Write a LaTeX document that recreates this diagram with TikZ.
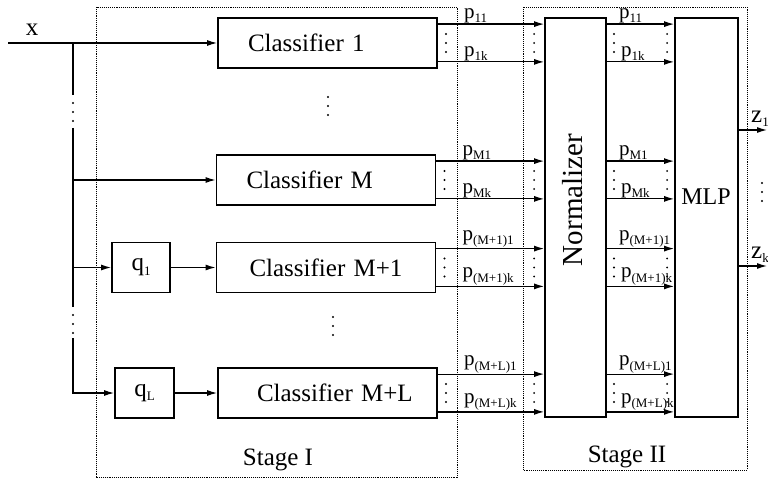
\documentclass[tikz,border=0pt]{standalone}
\usepackage{fontspec}
\setmainfont{Liberation Serif}
\usetikzlibrary{arrows.meta,positioning,calc}

\newcommand{\subidx}[1]{{\fontsize{13}{13}\selectfont\raisebox{-4.5pt}{#1}}}

\tikzset{
  bigtxt/.style={font=\fontsize{25}{30}\selectfont},
  clsbox/.style={draw, line width=1.8pt, minimum height=50pt, text width=199pt,
    inner xsep=10pt, align=left, bigtxt, execute at begin node={\hspace*{20pt}}},
  qbox/.style={draw, line width=1.8pt, minimum width=58pt, minimum height=50pt, bigtxt},
  tallbox/.style={draw, line width=1.8pt, minimum height=399pt},
  stage/.style={densely dotted, line width=0.9pt},
  arr/.style={->, line width=1.2pt},
  wire/.style={line width=1.2pt},
  plbl/.style={anchor=south west, inner sep=1pt, font=\fontsize{21}{24}\selectfont},
  tdots/.style={line width=2.2pt, line cap=round, dash pattern=on 0pt off 9pt},
}

\begin{document}
\begin{tikzpicture}[x=1pt, y=-1pt, >={Latex[length=10pt,width=6pt]}]
\useasboundingbox (0,0) rectangle (768,481);

% the two stages
\draw[stage] (96,7) rectangle (457,477);
\draw[stage] (523,7) rectangle (747,470);
\node[bigtxt] (st1) at (278,460) {Stage I};
\node[bigtxt] (st2) at (627,457) {Stage II};

% classifiers and quantizers
\node[clsbox] (c1) at (327.5,43) {Classifier 1};
\node[clsbox] (cM) at (326,180) {Classifier M};
\node[clsbox] (cM1) at (326,267.5) {\hspace{3pt}Classifier M+1};
\node[clsbox] (cML) at (327.5,393) {\hspace{9pt}Classifier M+L};
\node[qbox] (q1) at (141,267.5) {q\subidx{1}};
\node[qbox, minimum width=59pt] (qL) at (144.5,393) {q\subidx{L}};

% stage II blocks
\node[tallbox, minimum width=61pt] (norm) at (575.5,217.5) {};
\node[tallbox, minimum width=63pt] (mlp) at (706.5,217.5) {};
\node[rotate=90, font=\fontsize{29}{30}\selectfont] (normtxt) at (573,200) {Normalizer};
\node[font=\fontsize{24}{28}\selectfont] (mlptxt) at (706,197) {MLP};

% input and bus
\node[bigtxt] (xin) at (32,30) {x};
\coordinate (start) at (8,43);
\coordinate (bus) at (73,43);
\draw[arr] (start) -- (c1.west);
\draw[wire] (bus) -- (73,95);
\draw[wire] (73,128) -- (73,307);
\draw[arr] (73,338) |- (qL.west);
\draw[tdots] (73,103) -- ++(0,18.5);
\draw[tdots] (73,315) -- ++(0,18.5);
\draw[arr] (bus |- cM.west) -- (cM.west);
\draw[arr] (bus |- q1.west) -- (q1.west);
\draw[arr] (q1.east) -- (q1.east -| cM1.west);
\draw[arr] (qL.east) -- (qL.east -| cML.west);
\draw[tdots] (328,97) -- ++(0,18.5);
\draw[tdots] (333,317) -- ++(0,18.5);

% outputs of each classifier
\foreach \c/\s in {c1/1, cM/M, cM1/(M+1), cML/(M+L)} {
  \coordinate (\c-a) at ($(\c.north east)+(0,7)$);
  \coordinate (\c-b) at ($(\c.south east)+(0,-7)$);
  \coordinate (\c-m) at ($(\c-a)!.5!(\c-b)$);
  \draw[arr] (\c-a) -- (\c-a -| norm.west);
  \draw[arr] (\c-b) -- (\c-b -| norm.west);
  \draw[arr] (\c-a -| norm.east) -- (\c-a -| mlp.west);
  \draw[arr] (\c-b -| norm.east) -- (\c-b -| mlp.west);
  \node[plbl] at ($(\c-a)+(25,0)$) {p\subidx{\s1}};
  \node[plbl] at ($(\c-b)+(25,0)$) {p\subidx{\s k}};
  \node[plbl] at ($(\c-a -| norm.east)+(11,0)$) {p\subidx{\s1}};
  \node[plbl] at ($(\c-b -| norm.east)+(13,0)$) {p\subidx{\s k}};
  \draw[tdots] ($(\c-m)+(8,-9)$) -- ++(0,18.5);
  \draw[tdots] ($(\c-m -| norm.west)+(-10,-9)$) -- ++(0,18.5);
  \draw[tdots] ($(\c-m -| norm.east)+(7,-9)$) -- ++(0,18.5);
  \draw[tdots] ($(\c-m -| mlp.west)+(-7,-9)$) -- ++(0,18.5);
}

% final outputs
\coordinate (z1) at (767,130);
\coordinate (zk) at (767,266);
\draw[arr] (z1 -| mlp.east) -- (z1);
\draw[arr] (zk -| mlp.east) -- (zk);
\node[bigtxt, anchor=south west, inner sep=1pt] (z1txt) at (750,128) {z\subidx{1}};
\node[bigtxt, anchor=south west, inner sep=1pt] (zktxt) at (750,264) {z\subidx{k}};
\draw[tdots] (762,183) -- ++(0,18.5);

\end{tikzpicture}
\end{document}
